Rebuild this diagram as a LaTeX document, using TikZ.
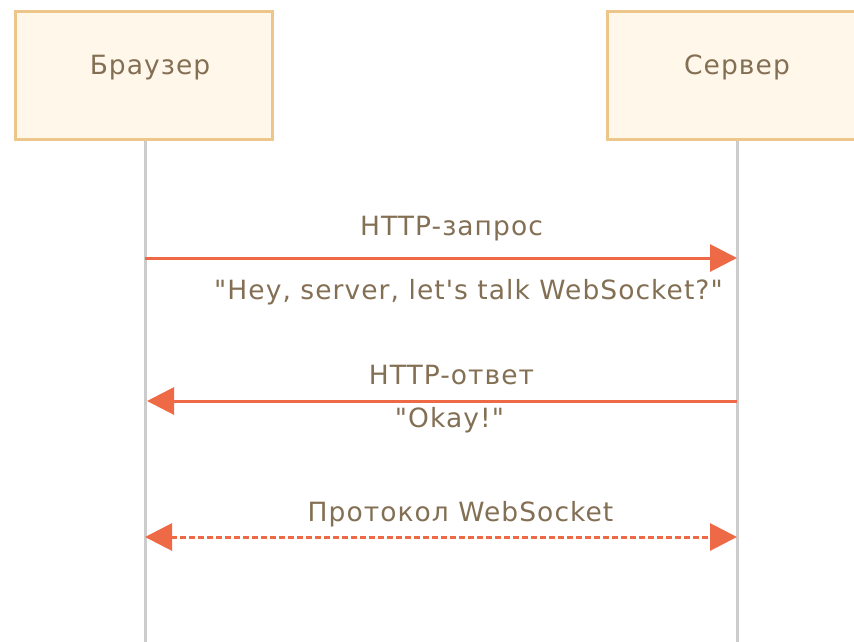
\documentclass[tikz,border=0pt]{standalone}
\usepackage{fontspec}
\setmainfont{DejaVu Sans}[Ligatures=TeXOff]
\newfontfamily\lblfont{DejaVu Sans}[LetterSpace=4, Ligatures=TeXOff]
\usetikzlibrary{arrows.meta}
\definecolor{boxfill}{HTML}{FFF7EA}
\definecolor{boxline}{HTML}{EDC68C}
\definecolor{lifeline}{HTML}{CCCCCC}
\definecolor{msgline}{HTML}{EE6A46}
\definecolor{msgtext}{HTML}{836F53}
\tikzset{
  x=1pt, y=-1pt,
  actor/.style={draw=boxline, fill=boxfill, line width=3pt, minimum width=257pt,
    minimum height=128pt, anchor=north west, inner sep=0pt},
  life/.style={draw=lifeline, line width=3pt},
  msg/.style={draw=msgline, line width=3pt, -{Triangle[length=27pt,width=27pt]}},
  lbl/.style={text=msgtext, font=\lblfont\fontsize{26.5}{30}\selectfont,
    inner sep=0pt, anchor=base}
}
\begin{document}
\begin{tikzpicture}
\useasboundingbox (0,0) rectangle (854,641);
\begin{scope}
\clip (0,0) rectangle (854,641);
% participants
\node[actor] (browser) at (14,10) {};
\node[actor, minimum width=258pt] (server) at (606,10) {};
\node[lbl] (browserlbl) at (150,74.3) {Браузер};
\node[lbl] (serverlbl) at (737,74.3) {Сервер};
% lifelines
\coordinate (bEnd) at (145,645);
\coordinate (sEnd) at (737,645);
\draw[life] (browser.south -| bEnd) -- (bEnd);
\draw[life] (server.south -| sEnd) -- (sEnd);
\end{scope}
% request
\coordinate (b1) at (145,258);
\coordinate (s1) at (737,258);
\draw[msg] (b1) -- (s1);
\node[lbl] (req) at (451.5,235.7) {HTTP-запрос};
\node[lbl] (reqtxt) at (468.5,299) {"Hey, server, let's talk WebSocket?"};
% response
\coordinate (b2) at (147,401);
\coordinate (s2) at (737,401);
\draw[msg] (s2) -- (b2);
\node[lbl] (resp) at (451.5,384) {HTTP-ответ};
\node[lbl] (resptxt) at (449.5,427) {"Okay!"};
% websocket
\coordinate (b3) at (145,537);
\coordinate (s3) at (737,537);
\draw[msg, {Triangle[length=27pt,width=27pt]}-{Triangle[length=27pt,width=27pt]}, dash pattern=on 6pt off 3pt] (b3) -- (s3);
\node[lbl] (ws) at (460.5,521) {Протокол WebSocket};
\end{tikzpicture}
\end{document}
